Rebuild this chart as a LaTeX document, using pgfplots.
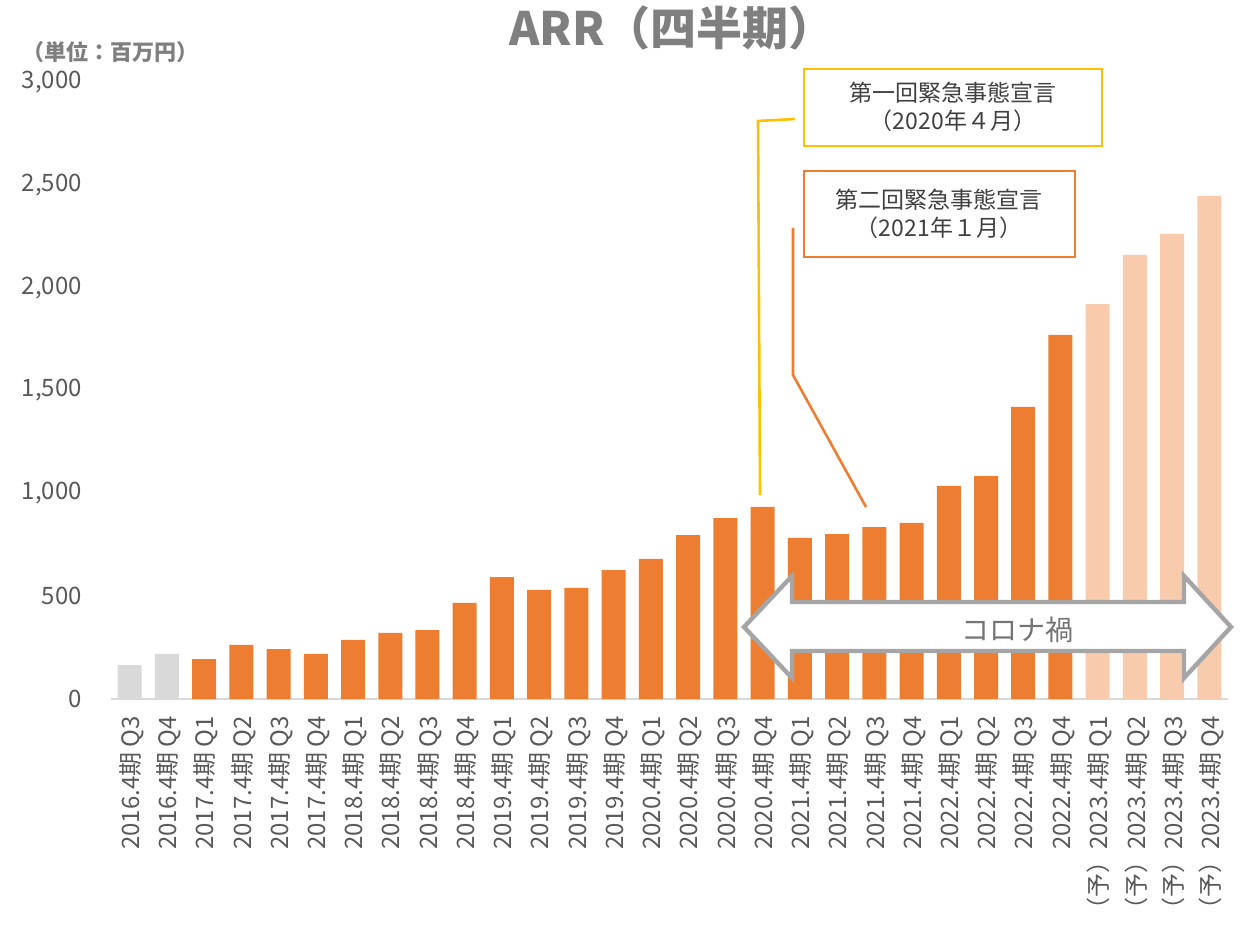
\documentclass[border=0pt]{standalone}
\usepackage{fontspec}
\setmainfont{Noto Sans CJK JP}
\usepackage{pgfplots}
\pgfplotsset{compat=1.18}
\definecolor{barorange}{HTML}{ED7D31}
\definecolor{bargray}{HTML}{D9D9D9}
\definecolor{barpeach}{HTML}{F8CBAD}
\definecolor{ticktext}{HTML}{595959}
\definecolor{titlegray}{HTML}{7F7F7F}
\definecolor{arrowgray}{HTML}{A5A5A5}
\definecolor{annyellow}{HTML}{FFC000}
\definecolor{anntext}{HTML}{404040}
\begin{document}
\begin{tikzpicture}
\path[use as bounding box] (0pt,0pt) rectangle (622.5pt,468pt);
\begin{axis}[
  at={(55.5pt,118.5pt)}, anchor=south west,
  scale only axis, width=558.5pt, height=308.5pt,
  xmin=-0.5, xmax=29.5, ymin=0, ymax=3000,
  ybar, bar width=12pt, bar shift=0pt,
  axis y line*=left, axis x line*=bottom,
  y axis line style={draw=none},
  x axis line style={draw=bargray, line width=1pt, -},
  ytick={0,500,1000,1500,2000,2500,3000},
  xtick={0,...,29}, major tick length=0pt,
  /pgf/number format/assume math mode=true,
  /pgf/number format/1000 sep={,},
  yticklabel style={font=\fontsize{12}{14}\selectfont, color=ticktext, anchor=east, xshift=-11pt},
  xticklabel style={font=\fontsize{12}{14}\selectfont, color=ticktext, rotate=90, anchor=east, xshift=-5pt, yshift=-1pt},
  xticklabels={2016.4期 Q3,2016.4期 Q4,2017.4期 Q1,2017.4期 Q2,2017.4期 Q3,2017.4期 Q4,2018.4期 Q1,2018.4期 Q2,2018.4期 Q3,2018.4期 Q4,2019.4期 Q1,2019.4期 Q2,2019.4期 Q3,2019.4期 Q4,2020.4期 Q1,2020.4期 Q2,2020.4期 Q3,2020.4期 Q4,2021.4期 Q1,2021.4期 Q2,2021.4期 Q3,2021.4期 Q4,2022.4期 Q1,2022.4期 Q2,2022.4期 Q3,2022.4期 Q4,（予）2023.4期 Q1,（予）2023.4期 Q2,（予）2023.4期 Q3,（予）2023.4期 Q4},
  clip=false,
]
\addplot[fill=bargray, draw=none] coordinates {(0,165) (1,219)};
\addplot[fill=barorange, draw=none] coordinates {
 (2,194) (3,263) (4,243) (5,219) (6,287) (7,321) (8,335) (9,467)
 (10,593) (11,530) (12,540) (13,627) (14,681) (15,797) (16,880) (17,934)
 (18,783) (19,802) (20,836) (21,856) (22,1036) (23,1084) (24,1420) (25,1770)};
\addplot[fill=barpeach, draw=none] coordinates {(26,1920) (27,2159) (28,2261) (29,2446)};
\end{axis}
\begin{scope}[x=0.5pt,y=0.5pt]
% title
\node[font=\fontsize{23}{27}\selectfont\bfseries, color=titlegray] at (672,908) {ARR（四半期）};
\node[font=\fontsize{11}{13}\selectfont\bfseries, color=titlegray] at (110,884) {（単位：百万円）};
% annotation lines
\draw[annyellow, line width=1.3pt] (795,817) -- (758,815) -- (760,441);
\draw[barorange, line width=1.3pt] (793,708) -- (793,561) -- (866,429);
% annotation boxes
\draw[annyellow, line width=1.1pt, fill=white] (804,867) rectangle (1102,790);
\node[font=\fontsize{11.5}{14}\selectfont, color=anntext, align=center] at (953,829) {第一回緊急事態宣言\\（2020年４月）};
\draw[barorange, line width=1.1pt, fill=white] (804,765) rectangle (1075,679);
\node[font=\fontsize{11.5}{14}\selectfont, color=anntext, align=center] at (939,722) {第二回緊急事態宣言\\（2021年１月）};
% corona arrow
\draw[arrowgray, line width=2.2pt, fill=white, line join=miter]
  (744,309) -- (792,360) -- (792,334) -- (1184,334) -- (1184,360) -- (1231,309)
  -- (1184,258) -- (1184,285) -- (792,285) -- (792,258) -- cycle;
\node[font=\fontsize{14}{16}\selectfont, color=arrowgray!70!black] at (1017,306) {コロナ禍};
\end{scope}
\end{tikzpicture}
\end{document}
